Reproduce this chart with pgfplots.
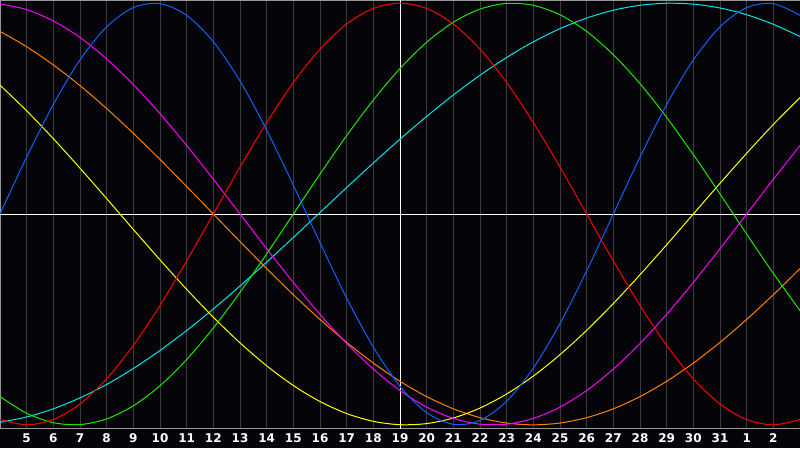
\documentclass[border=0pt]{standalone}
\usepackage{fontspec}
\setmainfont{DejaVu Sans}
\usepackage{pgfplots}
\pgfplotsset{compat=1.18}

\definecolor{bg}{RGB}{5,5,9}
\definecolor{gridc}{RGB}{58,58,58}
\definecolor{framec}{RGB}{150,150,150}
\definecolor{cred}{RGB}{255,0,0}
\definecolor{cgreen}{RGB}{30,230,0}
\definecolor{cblue}{RGB}{16,96,255}
\definecolor{ccyan}{RGB}{0,230,230}
\definecolor{cyellow}{RGB}{255,255,0}
\definecolor{corange}{RGB}{255,128,0}
\definecolor{cmagenta}{RGB}{255,0,255}

\begin{document}
\begin{tikzpicture}
\fill[bg] (0,-20pt) rectangle (800pt,428pt);
\begin{axis}[
  at={(0,0)}, anchor=south west,
  scale only axis, width=800pt, height=428pt,
  xmin=4, xmax=34, ymin=-1.015, ymax=1.015,
  axis line style={framec, line width=1pt},
  xtick={5,...,33},
  xticklabels={5,6,7,8,9,10,11,12,13,14,15,16,17,18,19,20,21,22,23,24,25,26,27,28,29,30,31,1,2},
  ytick=\empty,
  major tick length=0pt,
  xmajorgrids, grid style={gridc, line width=1pt},
  xticklabel style={text=white, anchor=center, yshift=-10.5pt,
    font=\fontsize{12}{12}\selectfont\bfseries},
  every axis plot/.append style={line width=1pt, smooth, no marks},
]
\draw[white, line width=1pt] (axis cs:4,0) -- (axis cs:34,0);
\draw[white, line width=1pt] (axis cs:19,-1.1) -- (axis cs:19,1.1);

% cyan, period 53
\addplot[ccyan] coordinates {
(4,-0.9880) (5,-0.9627) (6,-0.9240) (7,-0.8722) (8,-0.8083) (9,-0.7329)
(10,-0.6473) (11,-0.5527) (12,-0.4503) (13,-0.3415) (14,-0.2280) (15,-0.1112)
(16,0.0071) (17,0.1253) (18,0.2418) (19,0.3548) (20,0.4629) (21,0.5645)
(22,0.6582) (23,0.7425) (24,0.8166) (25,0.8792) (26,0.9293) (27,0.9665)
(28,0.9900) (29,0.9997) (30,0.9954) (31,0.9771) (32,0.9451) (33,0.8998) (34,0.8419)};

% orange, period 48
\addplot[corange] coordinates {
(4,0.8660) (5,0.7934) (6,0.7071) (7,0.6088) (8,0.5) (9,0.3827)
(10,0.2588) (11,0.1305) (12,0) (13,-0.1305) (14,-0.2588) (15,-0.3827)
(16,-0.5) (17,-0.6088) (18,-0.7071) (19,-0.7934) (20,-0.8660) (21,-0.9239)
(22,-0.9659) (23,-0.9914) (24,-1) (25,-0.9914) (26,-0.9659) (27,-0.9239)
(28,-0.8660) (29,-0.7934) (30,-0.7071) (31,-0.6088) (32,-0.5) (33,-0.3827) (34,-0.2588)};

% yellow, period 43
\addplot[cyellow] coordinates {
(4,0.6111) (5,0.4894) (6,0.3573) (7,0.2174) (8,0.0731) (9,-0.0731)
(10,-0.2174) (11,-0.3573) (12,-0.4894) (13,-0.6111) (14,-0.7199) (15,-0.8134)
(16,-0.8893) (17,-0.9464) (18,-0.9833) (19,-0.9993) (20,-0.9940) (21,-0.9675)
(22,-0.9204) (23,-0.8535) (24,-0.7687) (25,-0.6672) (26,-0.5517) (27,-0.4245)
(28,-0.2881) (29,-0.1456) (30,0) (31,0.1456) (32,0.2881) (33,0.4245) (34,0.5517)};

% magenta, period 38
\addplot[cmagenta] coordinates {
(4,0.9966) (5,0.9694) (6,0.9158) (7,0.8372) (8,0.7357) (9,0.6142)
(10,0.4759) (11,0.3247) (12,0.1646) (13,0) (14,-0.1646) (15,-0.3247)
(16,-0.4759) (17,-0.6142) (18,-0.7357) (19,-0.8372) (20,-0.9158) (21,-0.9694)
(22,-0.9966) (23,-0.9966) (24,-0.9694) (25,-0.9158) (26,-0.8372) (27,-0.7357)
(28,-0.6142) (29,-0.4759) (30,-0.3247) (31,-0.1646) (32,0) (33,0.1646) (34,0.3247)};

% green, period 33
\addplot[cgreen] coordinates {
(4,-0.8660) (5,-0.9450) (6,-0.9898) (7,-0.9989) (8,-0.9718) (9,-0.9096)
(10,-0.8146) (11,-0.6901) (12,-0.5406) (13,-0.3717) (14,-0.1893) (15,0)
(16,0.1893) (17,0.3717) (18,0.5406) (19,0.6901) (20,0.8146) (21,0.9096)
(22,0.9718) (23,0.9989) (24,0.9898) (25,0.9450) (26,0.8660) (27,0.7557)
(28,0.6182) (29,0.4582) (30,0.2817) (31,0.0951) (32,-0.0951) (33,-0.2817) (34,-0.4582)};

% red, period 28
\addplot[cred] coordinates {
(4,-0.9749) (5,-1) (6,-0.9749) (7,-0.9010) (8,-0.7818) (9,-0.6235)
(10,-0.4339) (11,-0.2225) (12,0) (13,0.2225) (14,0.4339) (15,0.6235)
(16,0.7818) (17,0.9010) (18,0.9749) (19,1) (20,0.9749) (21,0.9010)
(22,0.7818) (23,0.6235) (24,0.4339) (25,0.2225) (26,0) (27,-0.2225)
(28,-0.4339) (29,-0.6235) (30,-0.7818) (31,-0.9010) (32,-0.9749) (33,-1) (34,-0.9749)};

% blue, period 23
\addplot[cblue] coordinates {
(4,0) (5,0.2698) (6,0.5196) (7,0.7308) (8,0.8879) (9,0.9791)
(10,0.9977) (11,0.9423) (12,0.8170) (13,0.6311) (14,0.3984) (15,0.1362)
(16,-0.1362) (17,-0.3984) (18,-0.6311) (19,-0.8170) (20,-0.9423) (21,-0.9977)
(22,-0.9791) (23,-0.8879) (24,-0.7308) (25,-0.5196) (26,-0.2698) (27,0)
(28,0.2698) (29,0.5196) (30,0.7308) (31,0.8879) (32,0.9791) (33,0.9977) (34,0.9423)};
\end{axis}
\pgfresetboundingbox
\useasboundingbox (0,-20pt) rectangle (800pt,428pt);
\end{tikzpicture}
\end{document}
